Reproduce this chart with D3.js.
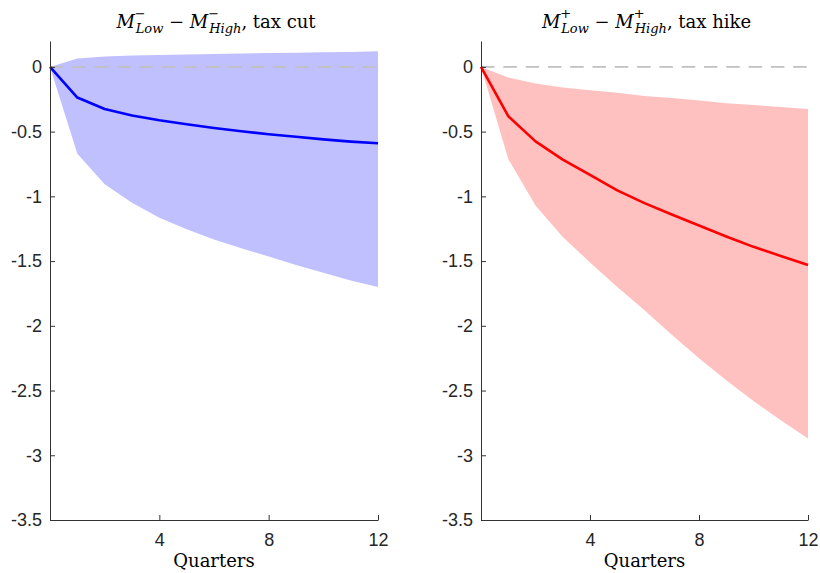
<!DOCTYPE html>
<html>
<head>
<meta charset="utf-8">
<script src="https://cdn.jsdelivr.net/npm/d3@7"></script>
<style>
   body { margin: 0; background: #ffffff; }
</style>
</head>
<body>
<div id="chart"></div>
<script>
//--------------------------------------------------------------
// DATA
//--------------------------------------------------------------
var quarters = [0, 1, 2, 3, 4, 5, 6, 7, 8, 9, 10, 11, 12];

// tax cut (left)
var cutMean  = [0, -0.237, -0.325, -0.376, -0.412, -0.443, -0.472, -0.497, -0.52, -0.54, -0.56, -0.577, -0.59];
var cutLower = [0, -0.67, -0.907, -1.05, -1.165, -1.255, -1.333, -1.40, -1.465, -1.53, -1.59, -1.65, -1.70];
var cutUpper = [0, 0.064, 0.08, 0.088, 0.091, 0.095, 0.10, 0.103, 0.107, 0.11, 0.113, 0.116, 0.12];

// tax hike (right)
var hikeMean  = [0, -0.381, -0.575, -0.716, -0.835, -0.954, -1.052, -1.14, -1.225, -1.31, -1.39, -1.46, -1.53];
var hikeLower = [0, -0.711, -1.07, -1.314, -1.51, -1.70, -1.88, -2.07, -2.25, -2.42, -2.58, -2.73, -2.87];
var hikeUpper = [0, -0.082, -0.129, -0.16, -0.18, -0.20, -0.225, -0.24, -0.26, -0.28, -0.295, -0.31, -0.325];

var xTicks = [4, 8, 12];
var yTicks = [0, -0.5, -1, -1.5, -2, -2.5, -3, -3.5];
//--------------------------------------------------------------


//--------------------------------------------------------------
// SIZE / FONTS
//--------------------------------------------------------------
var width = 820;
var height = 573;
var plotTop = 41;
var plotBottom = 520;

var sansFont = "'Liberation Sans', Arial, Helvetica, sans-serif";
var serifFont = "'DejaVu Serif', 'Liberation Serif', serif";

var svg = d3.select("#chart").append("svg")
   .attr("width", width)
   .attr("height", height);

var yScale = d3.scaleLinear()
   .domain([0.2, -3.5])
   .range([plotTop, plotBottom]);
//--------------------------------------------------------------


// style axis group
function styleAxis(ax) {
   ax.attr("font-family", sansFont).attr("font-size", 18);
   ax.selectAll(".domain, .tick line").attr("stroke", "#333333").attr("stroke-width", 1);
   ax.selectAll("text").attr("fill", "#262626");
};

// draw one panel
function drawPanel(x0, x1, mean, lower, upper, lineColor, fillColor, sign, tail) {
   var xScale = d3.scaleLinear()
      .domain([0, 12])
      .range([x0, x1]);

   var g = svg.append("g");

   // confidence band
   var area = d3.area()
      .x((d, i) => xScale(quarters[i]))
      .y0((d, i) => yScale(lower[i]))
      .y1((d, i) => yScale(upper[i]));
   g.append("path")
      .datum(mean)
      .attr("d", area)
      .attr("fill", fillColor)
      .attr("stroke", "none");

   // zero line
   g.append("line")
      .attr("x1", xScale(0))
      .attr("x2", xScale(12))
      .attr("y1", yScale(0))
      .attr("y2", yScale(0))
      .attr("stroke", "#c0c0c0")
      .attr("stroke-width", 1.8)
      .attr("stroke-dasharray", "13.5,8.8");

   // response
   var line = d3.line()
      .x((d, i) => xScale(quarters[i]))
      .y(d => yScale(d));
   g.append("path")
      .datum(mean)
      .attr("d", line)
      .attr("fill", "none")
      .attr("stroke", lineColor)
      .attr("stroke-width", 2.6)
      .attr("stroke-linejoin", "round");

   // axes, ticks inside
   var xAx = g.append("g")
      .attr("transform", `translate(0, ${plotBottom})`)
      .call(d3.axisBottom(xScale).tickValues(xTicks).tickSizeInner(-5).tickSizeOuter(0).tickPadding(13));
   styleAxis(xAx);
   var yAx = g.append("g")
      .attr("transform", `translate(${x0}, 0)`)
      .call(d3.axisLeft(yScale).tickValues(yTicks).tickFormat(d => String(d)).tickSizeInner(-5).tickSizeOuter(0).tickPadding(8));
   styleAxis(yAx);

   // x label
   g.append("text")
      .attr("font-family", serifFont)
      .attr("font-size", 18)
      .attr("x", (x0 + x1) / 2)
      .attr("y", 567)
      .attr("text-anchor", "middle")
      .text("Quarters");

   // title: M^s_Low - M^s_High, tail
   var t = g.append("text")
      .attr("font-family", serifFont)
      .attr("font-size", 18)
      .attr("x", (x0 + x1) / 2 + 2)
      .attr("y", 28)
      .attr("text-anchor", "middle");
   var supW = 10;
   t.append("tspan").attr("font-style", "italic").text("M");
   t.append("tspan").attr("font-size", 13).attr("dy", -10).text(sign);
   t.append("tspan").attr("font-size", 13).attr("font-style", "italic").attr("dx", -supW).attr("dy", 15).text("Low");
   t.append("tspan").attr("dy", -5).text(" \u2212 ");
   t.append("tspan").attr("font-style", "italic").text("M");
   t.append("tspan").attr("font-size", 13).attr("dy", -10).text(sign);
   t.append("tspan").attr("font-size", 13).attr("font-style", "italic").attr("dx", -supW).attr("dy", 15).text("High");
   t.append("tspan").attr("dy", -5).text(", " + tail);
};

drawPanel(50, 378, cutMean, cutLower, cutUpper, "#0000ff", "#c0c0ff", "\u2212", "tax cut");
drawPanel(481, 808, hikeMean, hikeLower, hikeUpper, "#ff0000", "#ffc0c0", "+", "tax hike");
</script>
</body>
</html>
